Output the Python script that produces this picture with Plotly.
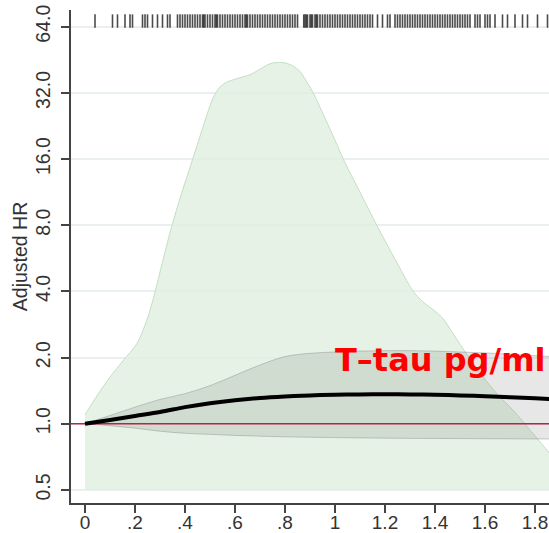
import numpy as np
import plotly.graph_objects as go

# ---------------- data ----------------
# density of T-tau (drawn on HR scale, filled down to 0.5)
dens_x = [0.0, 0.05, 0.10, 0.153, 0.207, 0.247, 0.273, 0.30, 0.34, 0.38, 0.427, 0.47,
          0.513, 0.54, 0.567, 0.62, 0.66, 0.70, 0.74, 0.77, 0.80, 0.83, 0.86, 0.893,
          0.913, 0.95, 1.00, 1.033, 1.10, 1.167, 1.24, 1.313, 1.35, 1.40, 1.433, 1.473,
          1.53, 1.593, 1.65, 1.713, 1.793, 1.856, 1.90]
dens_y = [1.10, 1.35, 1.63, 1.94, 2.31, 2.95, 3.7, 4.9, 7.4, 10.6, 15.5, 22.0,
          30.5, 34.0, 35.8, 37.5, 38.7, 41.0, 43.4, 44.0, 43.8, 42.5, 40.0, 35.0,
          32.0, 26.0, 19.5, 16.0, 11.3, 8.0, 5.6, 4.0, 3.6, 3.25, 3.0, 2.56,
          2.05, 1.63, 1.36, 1.15, 0.90, 0.74, 0.65]
dens_base = 0.5

# spline HR with confidence band
hr_x = [0.0, 0.1, 0.2, 0.3, 0.4, 0.5, 0.6, 0.7, 0.8, 0.9, 1.0, 1.1, 1.2, 1.3,
        1.4, 1.5, 1.6, 1.7, 1.8, 1.9]
hr = [1.0, 1.04, 1.085, 1.13, 1.19, 1.24, 1.28, 1.31, 1.33, 1.345, 1.355, 1.36,
      1.362, 1.36, 1.355, 1.345, 1.335, 1.32, 1.305, 1.29]
ci_upper = [1.0, 1.09, 1.19, 1.29, 1.37, 1.49, 1.66, 1.85, 2.02, 2.09, 2.12, 2.14,
            2.15, 2.15, 2.14, 2.12, 2.10, 2.07, 2.04, 2.01]
ci_lower = [1.0, 0.98, 0.955, 0.925, 0.905, 0.895, 0.885, 0.878, 0.872, 0.868, 0.865,
            0.862, 0.86, 0.858, 0.857, 0.856, 0.855, 0.854, 0.853, 0.852]

ref_hr = 1.0

# rug of observed T-tau values
rug_x = [0.04, 0.11, 0.13, 0.16, 0.18, 0.19, 0.23, 0.24, 0.25, 0.27, 0.29, 0.31, 0.33, 0.34,
         0.37, 0.38, 0.39, 0.40, 0.41, 0.42, 0.43, 0.44, 0.45, 0.46, 0.47, 0.475, 0.48, 0.49,
         0.50, 0.51, 0.52, 0.525, 0.53, 0.54, 0.55, 0.56, 0.57, 0.58, 0.59, 0.60, 0.61,
         0.62, 0.63, 0.64, 0.645, 0.65, 0.66, 0.67, 0.68, 0.69, 0.70, 0.71, 0.72, 0.73, 0.74,
         0.75, 0.76, 0.77, 0.78, 0.79, 0.80, 0.81, 0.82, 0.83, 0.84, 0.85,
         0.875, 0.88, 0.885, 0.89, 0.90, 0.905, 0.91, 0.92, 0.925, 0.93, 0.94, 0.95, 0.96,
         0.97, 0.98, 0.99, 1.00, 1.01, 1.02, 1.03, 1.04, 1.05, 1.06, 1.07, 1.08, 1.09, 1.10,
         1.11, 1.12, 1.13, 1.14,
         1.15, 1.17, 1.19, 1.21, 1.22, 1.24, 1.25,
         1.26, 1.27, 1.28, 1.29, 1.30, 1.31, 1.32, 1.33, 1.34, 1.35, 1.36, 1.37, 1.38, 1.39,
         1.40, 1.41, 1.42, 1.43, 1.44, 1.45, 1.46, 1.47, 1.48, 1.49, 1.50, 1.51, 1.52, 1.53,
         1.54, 1.56, 1.57, 1.58, 1.60, 1.61, 1.62, 1.64,
         1.67, 1.69, 1.72, 1.75, 1.77, 1.81, 1.85]
rug_lo, rug_hi = 63.3, 72.8

x_ticks = [0, 0.2, 0.4, 0.6, 0.8, 1.0, 1.2, 1.4, 1.6, 1.8]
x_labels = ["0", ".2", ".4", ".6", ".8", "1", "1.2", "1.4", "1.6", "1.8"]
y_ticks = [0.5, 1, 2, 4, 8, 16, 32, 64]
y_labels = ["0.5", "1.0", "2.0", "4.0", "8.0", "16.0", "32.0", "64.0"]

x_range = [-0.056, 1.856]
y_range = [0.436, 76.2]

label_text = "T\u2013tau pg/ml"

# ---------------- figure ----------------
fig = go.Figure()

# density baseline + filled density
fig.add_trace(go.Scatter(x=[dens_x[0], dens_x[-1]], y=[dens_base, dens_base], mode="lines",
                         line=dict(width=0, color="rgba(0,0,0,0)"), hoverinfo="skip"))
fig.add_trace(go.Scatter(x=dens_x, y=dens_y, mode="lines", fill="tonexty",
                         fillcolor="rgba(225,240,225,0.85)",
                         line=dict(color="rgba(190,220,190,0.9)", width=1, shape="spline",
                                   smoothing=0.8),
                         hoverinfo="skip"))

# confidence band
fig.add_trace(go.Scatter(x=hr_x, y=ci_lower, mode="lines",
                         line=dict(color="rgba(140,140,140,0.45)", width=1, shape="spline"),
                         hoverinfo="skip"))
fig.add_trace(go.Scatter(x=hr_x, y=ci_upper, mode="lines", fill="tonexty",
                         fillcolor="rgba(110,110,110,0.17)",
                         line=dict(color="rgba(140,140,140,0.45)", width=1, shape="spline"),
                         hoverinfo="skip"))

# reference line HR = 1
fig.add_trace(go.Scatter(x=x_range, y=[ref_hr, ref_hr], mode="lines",
                         line=dict(color="#b8234a", width=1.5), hoverinfo="skip"))

# HR curve
fig.add_trace(go.Scatter(x=hr_x, y=hr, mode="lines",
                         line=dict(color="black", width=4, shape="spline"), hoverinfo="skip"))

# rug
rx, ry = [], []
for v in rug_x:
    rx += [v, v, None]
    ry += [rug_lo, rug_hi, None]
fig.add_trace(go.Scatter(x=rx, y=ry, mode="lines",
                         line=dict(color="rgba(30,30,30,0.8)", width=1.6), hoverinfo="skip"))

fig.add_annotation(x=0.992, y=float(np.log10(1.94)), xref="x", yref="y",
                   text="<b>" + label_text + "</b>", showarrow=False,
                   xanchor="left", yanchor="middle",
                   font=dict(family="DejaVu Sans", size=32, color="#ff0000"))

fig.update_layout(
    width=549, height=533,
    margin=dict(l=71, r=0, t=10, b=30, autoexpand=False),
    paper_bgcolor="white", plot_bgcolor="white",
    showlegend=False,
    font=dict(family="Liberation Sans", color="#333333"),
    xaxis=dict(range=x_range, tickvals=x_ticks, ticktext=x_labels,
               showgrid=False, zeroline=False, automargin=False,
               showline=True, linecolor="#444444", linewidth=1.5,
               ticks="outside", ticklen=8, tickwidth=1.5, tickcolor="#444444",
               ticklabeloverflow="allow", ticklabelstandoff=-7,
               tickfont=dict(size=19, color="#333333")),
    yaxis=dict(type="log", range=[float(np.log10(y_range[0])), float(np.log10(y_range[1]))],
               tickvals=y_ticks, ticktext=y_labels, tickangle=-90,
               showgrid=True, gridcolor="#eaf0f2", gridwidth=1.5, zeroline=False,
               automargin=False,
               showline=True, linecolor="#444444", linewidth=1.5,
               ticks="outside", ticklen=8, tickwidth=1.5, tickcolor="#444444",
               ticklabeloverflow="allow", ticklabelstandoff=3,
               tickfont=dict(size=19.5, color="#333333"),
               title=dict(text="Adjusted HR", font=dict(size=19.5, color="#333333"),
                          standoff=0)),
)

# remove the page's default body margin so the 549x533 figure fills the window exactly
fig.write_html("out.html",
               config={"displayModeBar": False},
               post_script="document.body.style.margin='0px';"
                           "document.body.style.overflow='hidden';"
                           "document.documentElement.style.overflow='hidden';")
